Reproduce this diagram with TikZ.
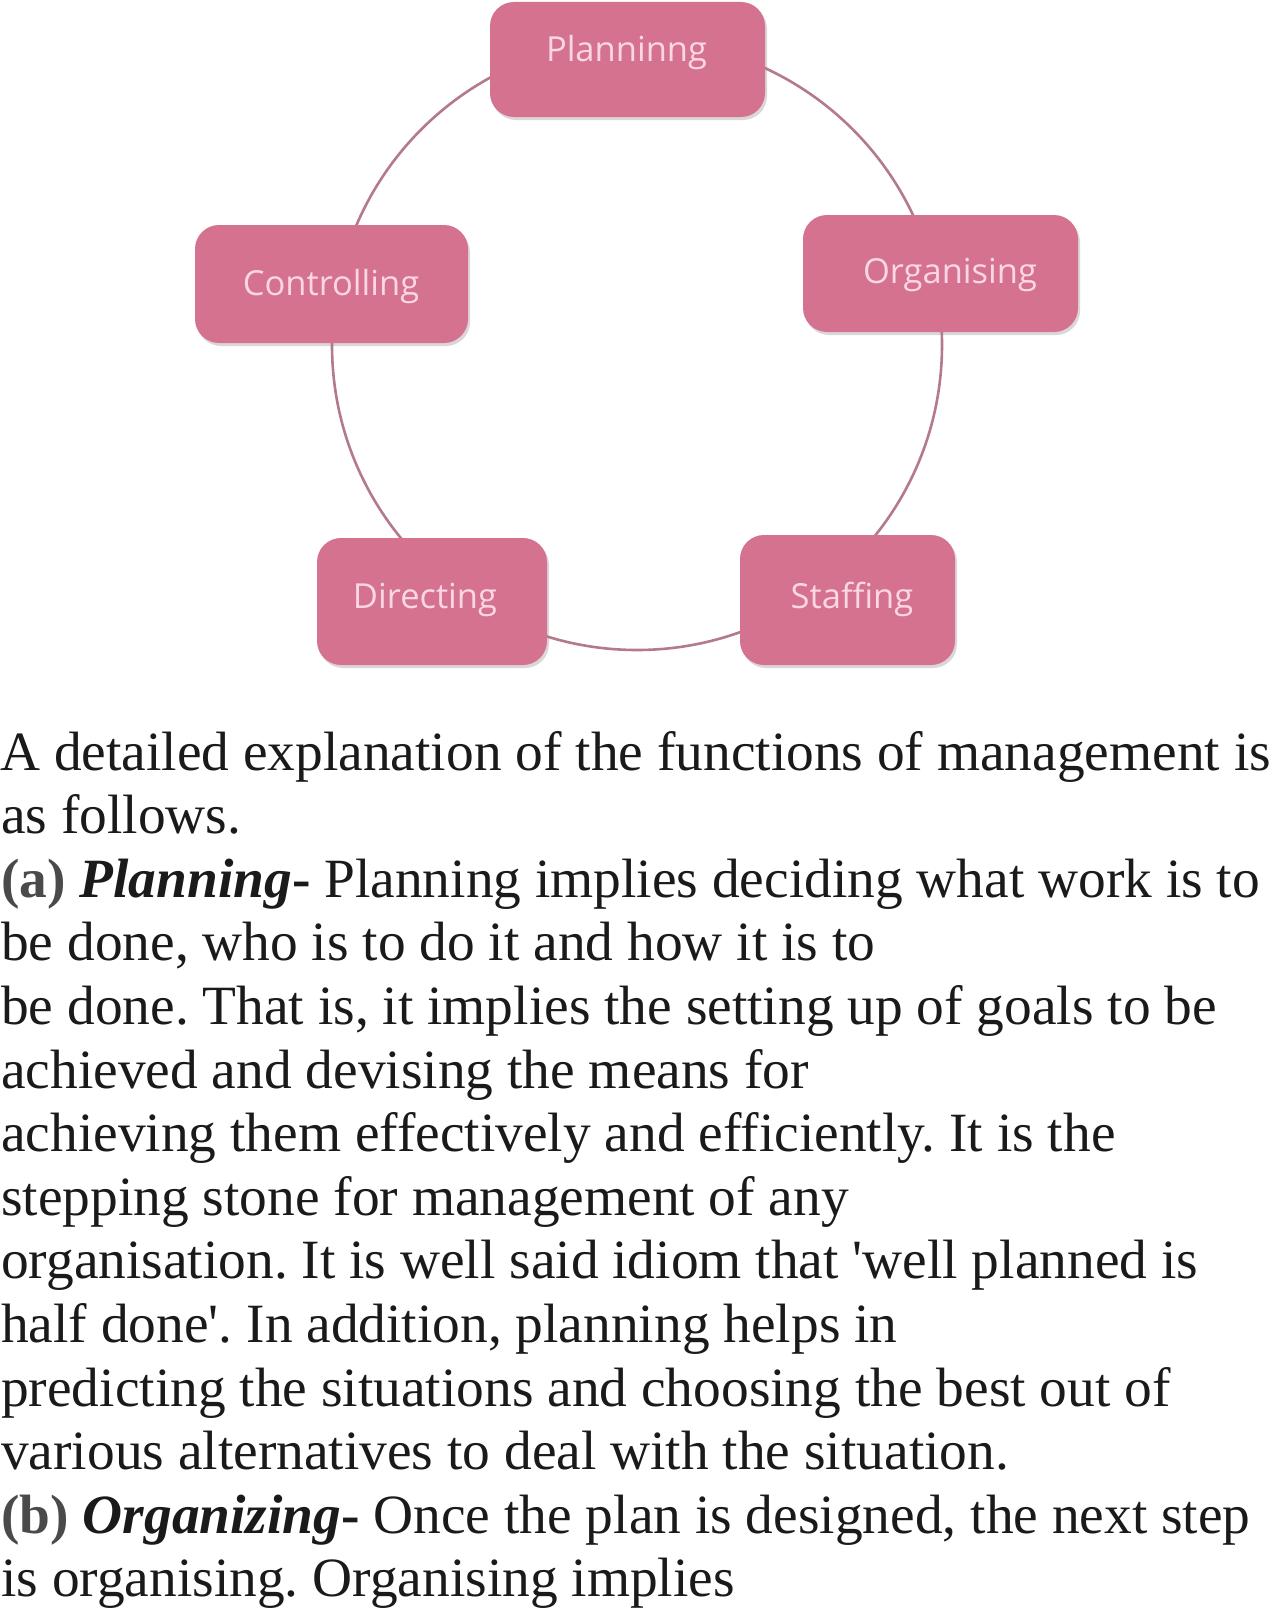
\documentclass[tikz,border=0pt]{standalone}
\usepackage{fontspec}
\setmainfont{Liberation Serif}[Ligatures=TeXOff]
\newfontfamily\boxfont{Open Sans}
\definecolor{boxpink}{HTML}{D4728F}
\definecolor{boxtxt}{HTML}{FBD6E4}
\definecolor{ringcol}{HTML}{B47A8A}
\definecolor{shadowcol}{HTML}{9A8A90}
\definecolor{bodytxt}{HTML}{1A1A1A}
\definecolor{labgray}{HTML}{4A4A4A}
\frenchspacing
\begin{document}
\begin{tikzpicture}[x=1pt,y=-1pt,
  fbox/.style={draw=none,fill=boxpink,rounded corners=24pt,inner sep=0pt},
  fshadow/.style={fill=shadowcol,opacity=0.35,rounded corners=24pt,draw=none},
  ftext/.style={anchor=base,inner sep=0pt,text=boxtxt,font=\boxfont\fontsize{34.5}{38}\selectfont},
  line/.style={anchor=base west,inner sep=0pt,text=bodytxt,font=\fontsize{55.4}{63.6}\selectfont},
  ring/.style={draw=ringcol,line width=2.6pt}]
\useasboundingbox (0,0) rectangle (1273,1611);
\fill[white] (0,0) rectangle (1273,1611);
% ring
\coordinate (c) at (637,345);
\draw[ring] (c) circle[radius=305];
% shadows
\foreach \a/\b/\cc/\d in {490/2/765/117, 803/215/1078/332, 195/225/468/343, 317/538/547/665, 740/535/955/665}
  {\fill[fshadow] (\a+2,\b+3) rectangle (\cc+2,\d+3);}
% boxes
\path[fbox] (490,2) rectangle (765,117) node[midway] (plan) {};
\path[fbox] (803,215) rectangle (1078,332) node[midway] (org) {};
\path[fbox] (195,225) rectangle (468,343) node[midway] (ctrl) {};
\path[fbox] (317,538) rectangle (547,665) node[midway] (dir) {};
\path[fbox] (740,535) rectangle (955,665) node[midway] (staff) {};
% box texts
\node[ftext] (plant) at (626.5,62) {Planninng};
\node[ftext] (orgt) at (950,283) {Organising};
\node[ftext] (ctrlt) at (331,295) {Controlling};
\node[ftext] (dirt) at (425,608) {Directing};
\node[ftext] (stafft) at (852,608) {Staffing};
% body text
\node[line] (l1) at (0,770) {A detailed explanation of the functions of management is};
\node[line] (l2) at (1,833.6) {as follows.};
\node[line] (l3) at (1,897.2) {{\bfseries\color{labgray}(a)} \textbf{\textit{Planning}}\textbf{-} Planning implies deciding what work is to};
\node[line] (l4) at (1,960.8) {be done, who is to do it and how it is to};
\node[line] (l5) at (1,1024.4) {be done. That is, it implies the setting up of goals to be};
\node[line] (l6) at (1,1088) {achieved and devising the means for};
\node[line] (l7) at (1,1151.6) {achieving them effectively and efficiently. It is the};
\node[line] (l8) at (1,1215.2) {stepping stone for management of any};
\node[line] (l9) at (1,1278.8) {organisation. It is well said idiom that 'well planned is};
\node[line] (l10) at (1,1342.4) {half done'. In addition, planning helps in};
\node[line] (l11) at (1,1406) {predicting the situations and choosing the best out of};
\node[line] (l12) at (1,1469.6) {various alternatives to deal with the situation.};
\node[line] (l13) at (1,1533.2) {{\bfseries\color{labgray}(b)} \textbf{\textit{Organizing}}\textbf{-} Once the plan is designed, the next step};
\node[line] (l14) at (1,1596.8) {is organising. Organising implies};
\end{tikzpicture}
\end{document}
